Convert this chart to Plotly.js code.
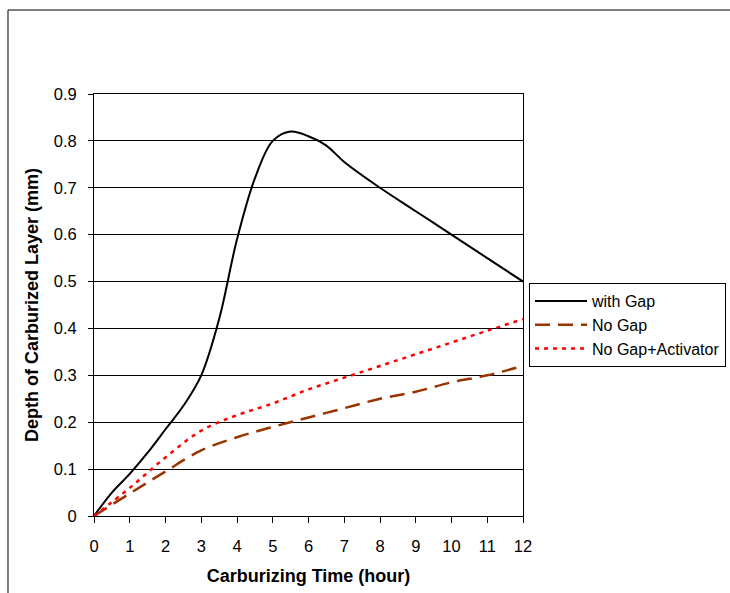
<!DOCTYPE html>
<html>
<head>
<meta charset="utf-8">
<script src="https://cdn.plot.ly/plotly-3.0.1.min.js"></script>
<style>
  html, body { margin: 0; padding: 0; background: #fff; }
  #chart { width: 730px; height: 593px; }
</style>
</head>
<body>
<div id="chart"></div>
<script>
// Data
const gapHours   = [0, 0.5, 1, 1.5, 2, 2.5, 3, 3.5, 4, 4.5, 5, 5.5, 6, 6.5, 7, 8, 9, 10, 11, 12];
const withGap    = [0, 0.05, 0.09, 0.135, 0.185, 0.235, 0.30, 0.42, 0.59, 0.72, 0.80, 0.82, 0.81, 0.79, 0.755, 0.70, 0.65, 0.60, 0.55, 0.50];

const hours      = [0, 1, 2, 3, 4, 5, 6, 7, 8, 9, 10, 11, 12];
const noGap      = [0, 0.048, 0.095, 0.14, 0.168, 0.19, 0.21, 0.23, 0.25, 0.265, 0.285, 0.30, 0.32];
const noGapAct   = [0, 0.06, 0.125, 0.182, 0.215, 0.24, 0.27, 0.295, 0.32, 0.345, 0.37, 0.395, 0.42];

const seriesNames = ["with Gap", "No Gap", "No Gap+Activator"];
const xTickVals = [0, 1, 2, 3, 4, 5, 6, 7, 8, 9, 10, 11, 12];
const yTickVals = [0, 0.1, 0.2, 0.3, 0.4, 0.5, 0.6, 0.7, 0.8, 0.9];

const FONT = "Liberation Sans, Arial, sans-serif";

const traces = [
  { x: gapHours, y: withGap, name: seriesNames[0], mode: "lines", legendgroup: "a",
    line: { color: "#000000", width: 2, shape: "spline" } },
  { x: hours, y: noGap, name: seriesNames[1], mode: "lines", legendgroup: "b",
    line: { color: "#993300", width: 2.5, dash: "15px,8px", shape: "spline" } },
  { x: hours, y: noGapAct, name: seriesNames[2], mode: "lines", legendgroup: "c",
    line: { color: "#FF0000", width: 2.5, dash: "4px,5px", shape: "spline" } }
];

const layout = {
  width: 730, height: 593,
  margin: { l: 94, r: 207, t: 94, b: 77, autoexpand: false },
  paper_bgcolor: "#ffffff",
  plot_bgcolor: "#ffffff",
  font: { family: FONT, size: 16, color: "#000" },
  showlegend: true,
  legend: {
    x: 1.014, xanchor: "left", y: 0.552, yanchor: "top",
    bordercolor: "#000", borderwidth: 1, bgcolor: "#fff",
    font: { family: FONT, size: 16, color: "#000" },
    tracegroupgap: 0, itemwidth: 52, traceorder: "grouped"
  },
  xaxis: {
    range: [0, 12], tickvals: xTickVals, ticktext: xTickVals.map(String),
    showgrid: false, zeroline: false,
    showline: true, mirror: true, linecolor: "#000", linewidth: 1,
    ticks: "outside", ticklen: 6, tickcolor: "#000", ticklabelstandoff: 9,
    tickfont: { family: FONT, size: 16.5 },
    title: { text: "<b>Carburizing Time (hour)</b>", font: { family: FONT, size: 18 }, standoff: 15 }
  },
  yaxis: {
    range: [0, 0.9], tickvals: yTickVals, ticktext: yTickVals.map(v => String(v)),
    showgrid: true, gridcolor: "#000", gridwidth: 1, zeroline: false,
    showline: true, mirror: true, linecolor: "#000", linewidth: 1,
    ticks: "outside", ticklen: 5, tickcolor: "#000", ticklabelstandoff: 8,
    tickfont: { family: FONT, size: 16.5 },
    title: { text: "<b>Depth of Carburized Layer (mm)</b>", font: { family: FONT, size: 18 }, standoff: 10 }
  },
  shapes: [
    { type: "line", xref: "paper", yref: "paper", x0: -0.2005, x1: -0.2005, y0: 1.199, y1: -0.3,
      line: { color: "#000", width: 1 } },
    { type: "line", xref: "paper", yref: "paper", x0: -0.2005, x1: 1.6, y0: 1.199, y1: 1.199,
      line: { color: "#000", width: 1 } }
  ]
};

Plotly.newPlot("chart", traces, layout, { displayModeBar: false, staticPlot: true });
</script>
</body>
</html>
